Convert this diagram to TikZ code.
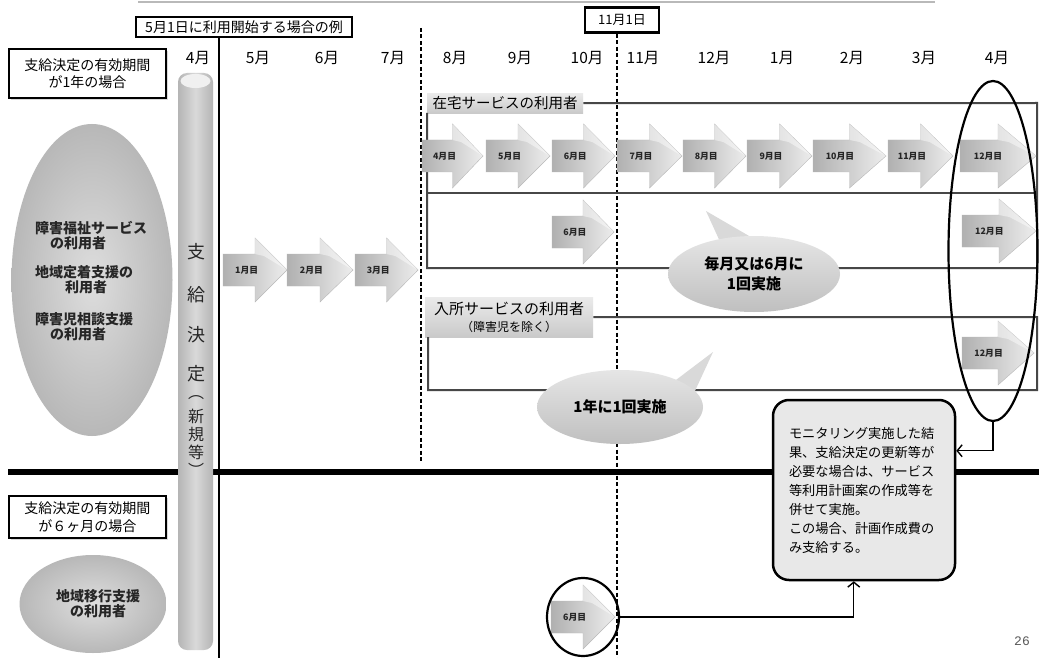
\documentclass[tikz,border=0pt]{standalone}
\usepackage{fontspec}
\setmainfont{Noto Sans CJK JP}
\newfontfamily\monofnt{Liberation Mono}
\usetikzlibrary{arrows.meta,shapes.geometric}
\newcommand\fs[2][]{\fontsize{#2}{#2}\selectfont}
\newcommand\MonArrow[5]{%
  \shadedraw[left color=gray!62, right color=gray!14, draw=gray!55, line width=0.4pt]
    (#2,#3-16) -- (#2+#4*0.5,#3-16) -- (#2+#4*0.5,#3-32) -- (#2+#4,#3)
    -- (#2+#4*0.5,#3+32) -- (#2+#4*0.5,#3+16) -- (#2,#3+16) -- cycle;
  \fill[white, opacity=0.45] (#2+#4*0.5,#3-32) -- (#2+#4,#3) -- (#2+#4*0.64,#3-14) -- (#2+#4*0.5,#3-16) -- cycle;
  \node[arrlbl] (#1) at (#2+#4*0.37,#3) {#5};
}
\begin{document}
\begin{tikzpicture}[x=1pt,y=-1pt,
  mlabel/.style={font=\fs{15.5}, inner sep=0pt},
  arrlbl/.style={font=\bfseries\fs{8.8}, inner sep=0pt, text=black!85},
  frame/.style={draw=black!72, line width=2pt},
  lblbox/.style={top color=gray!16, bottom color=gray!42, inner sep=2pt},
  topbox/.style={draw, line width=2.2pt, fill=white, inner sep=0pt},
  vdash/.style={dashed, line width=1.1pt, dash pattern=on 4pt off 2.5pt},
  conn/.style={line width=1.4pt, -{Straight Barb[length=5pt,width=12pt]}},
  pil/.style={font=\fs{18}, inner sep=0pt, text=black!85},
  pils/.style={font=\fs{16}, inner sep=0pt, text=black!85},
  etext/.style={font=\bfseries\fontsize{14}{15}\selectfont, inner sep=0pt, text=black!85},
  grayell/.style={ellipse, inner color=gray!26, outer color=gray!56, inner sep=0pt}]
\useasboundingbox (0,0) rectangle (1039,658);
\fill[white] (0,0) rectangle (1039,658);
% top gray rule
\draw[gray!55, line width=2pt] (138,2) -- (935,2);

% header boxes
\node[topbox, minimum width=216, minimum height=20, font=\fs{14}] (may1) at (244,27) {5月1日に利用開始する場合の例};
\node[topbox, minimum width=74, minimum height=25, font=\fs{13}] (nov1) at (622,20) {11月1日};

% dashed guide lines
\coordinate (d8top) at (421,28);
\coordinate (d8bot) at (421,463);
\draw[vdash] (d8top) -- (d8bot);
\coordinate (d11bot) at (617,658);
\draw[vdash] (nov1.south -| d11bot) -- (d11bot);

% thick separator
\draw[line width=6pt] (8,472) -- (1039,472);

% month labels
\foreach \x/\m [count=\i] in {198/4月,258/5月,327/6月,393/7月,455/8月,520/9月,587/10月,643/11月,714/12月,782/1月,852/2月,924/3月,997/4月}
  \node[mlabel] (mo\i) at (\x,58) {\m};

% group frames
\node[lblbox, anchor=north west, minimum width=156, minimum height=20, font=\fs{14.5}] (zaitaku) at (427,93) {在宅サービスの利用者};
\draw[frame] (zaitaku.east) -- (1037,103) -- (1037,268) -- (427,268) -- (427,113);
\draw[frame] (427,193) -- (1037,193);
\node[lblbox, anchor=north west, minimum width=168, minimum height=40, align=center, font=\fontsize{15}{17}\selectfont] (nyusho) at (425,297) {入所サービスの利用者\\{\fontsize{12}{13}\selectfont （障害児を除く）}};
\draw[frame] (nyusho.east) -- (1037,317) -- (1037,390) -- (428,390) -- (428,337);

% monthly arrows
\MonArrow{r1a}{422}{156}{61}{4月目}
\MonArrow{r1b}{486}{156}{64}{5月目}
\MonArrow{r1c}{552}{156}{63}{6月目}
\MonArrow{r1d}{617}{156}{65}{7月目}
\MonArrow{r1e}{683}{156}{63}{8月目}
\MonArrow{r1f}{747}{156}{65}{9月目}
\MonArrow{r1g}{813}{156}{73}{10月目}
\MonArrow{r1h}{888}{156}{65}{11月目}
\MonArrow{r1i}{960}{156}{76}{12月目}
\MonArrow{r2a}{552}{232}{62}{6月目}
\MonArrow{r2b}{962}{231}{74}{12月目}
\MonArrow{r3a}{962}{353}{72}{12月目}
\MonArrow{r0a}{223}{270}{64}{1月目}
\MonArrow{r0b}{287}{270}{66}{2月目}
\MonArrow{r0c}{355}{270}{63}{3月目}
\MonArrow{r4a}{551}{617}{64}{6月目}

% speech bubbles
\fill[gray!30] (706,211) -- (722,246) -- (756,240) -- cycle;
\node[ellipse, minimum width=172, minimum height=76, top color=gray!20, bottom color=gray!50, inner sep=0pt, align=center, font=\bfseries\fontsize{15}{20}\selectfont] (bub1) at (754,274) {毎月又は6月に\\1回実施};
\fill[gray!30] (713,352) -- (672,383) -- (694,393) -- cycle;
\node[ellipse, minimum width=166, minimum height=74, top color=gray!20, bottom color=gray!50, inner sep=0pt, font=\bfseries\fs{15}] (bub2) at (620,407) {1年に1回実施};

% pillar
\shade[left color=gray!58, right color=gray!58, middle color=gray!30, rounded corners=9pt] (178,73) rectangle (213,650);
\fill[gray!12] (195.5,81) ellipse (15 and 7);
\node[pil] (p1) at (196,252) {支};
\node[pil] (p2) at (196,295) {給};
\node[pil] (p3) at (196,335) {決};
\node[pil] (p4) at (196,374) {定};
\node[pils] (p5) at (196,398) {︵};
\node[pils] (p6) at (196,416) {新};
\node[pils] (p7) at (196,434) {規};
\node[pils] (p8) at (196,452) {等};
\node[pils] (p9) at (196,470) {︶};

% main vertical line
\coordinate (vtop) at (219,37);
\coordinate (vbot) at (219,658);
\draw[line width=2.5pt] (vtop) -- (vbot);

% left side boxes and ellipses
\fill[gray!30] (11,51) rectangle (168,100);
\node[draw, line width=1.8pt, fill=white, minimum width=157, minimum height=49, anchor=north west, align=center, font=\fontsize{14}{17}\selectfont] (y1) at (8,48) {支給決定の有効期間\\が1年の場合};
\fill[gray!30] (11,498) rectangle (168,540);
\node[draw, line width=1.8pt, fill=white, minimum width=157, minimum height=42, anchor=north west, align=center, font=\fontsize{14}{18}\selectfont] (y6) at (8,495) {支給決定の有効期間\\が６ヶ月の場合};

\node[grayell, minimum width=161, minimum height=312] (e1) at (92,280) {};
\node[etext, align=left, anchor=west] (t1) at (35,236) {障害福祉サービス\\\hspace*{15pt}の利用者};
\node[etext, align=left, anchor=west] (t2) at (35,280) {地域定着支援の\\\hspace*{30pt}利用者};
\node[etext, align=left, anchor=west] (t3) at (35,327) {障害児相談支援\\\hspace*{15pt}の利用者};

\node[grayell, minimum width=147, minimum height=98] (e2) at (93,604) {};
\node[etext, align=center] (t4) at (98,604) {地域移行支援\\の利用者};

% highlight ellipse and circle
\node[ellipse, draw, line width=2.2pt, minimum width=89, minimum height=340, inner sep=0pt] (sel) at (993,251) {};
\node[ellipse, draw, line width=2.2pt, minimum width=72, minimum height=78, inner sep=0pt] (c6) at (583,617) {};

% callout
\node[draw, line width=2.5pt, rounded corners=16pt, fill=gray!18, minimum width=182, minimum height=180, text width=150pt, align=left, font=\fontsize{13.2}{19}\selectfont] (mon) at (864,490) {モニタリング実施した結\\果、支給決定の更新等が\\必要な場合は、サービス\\等利用計画案の作成等を\\併せて実施。\\この場合、計画作成費の\\み支給する。};

\path (mon.north east) ++(0,52) coordinate (monE);
\path (mon.south west) ++(82,0) coordinate (monS);
\draw[conn] (sel.south) |- (monE);
\draw[conn] (c6.east) -| (monS);

% page number
\node[font=\monofnt\fs{13}, text=gray!70!black, inner sep=0pt] (pg) at (1022,641) {26};
\end{tikzpicture}
\end{document}
